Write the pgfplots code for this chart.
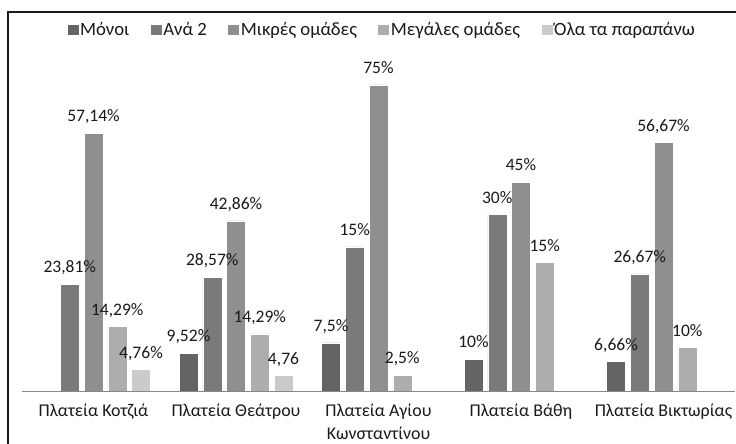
\documentclass[border=0pt]{standalone}
\usepackage{pgfplots}
\pgfplotsset{compat=1.18}
\usepackage{fontspec}
\setmainfont{Carlito}
\definecolor{cA}{HTML}{646464}
\definecolor{cB}{HTML}{7A7A7A}
\definecolor{cC}{HTML}{8F8F8F}
\definecolor{cD}{HTML}{ADADAD}
\definecolor{cE}{HTML}{CBCBCB}
\definecolor{txt}{HTML}{1A1A1A}
\begin{document}
\begin{tikzpicture}[x=1bp,y=1bp]
\useasboundingbox (0,0) rectangle (736,444);
\fill[white] (0,0) rectangle (736,444);
\draw[line width=1.2bp, color=black!90] (8,0) -- (8,432) -- (736,432);
\begin{axis}[
  at={(22.25bp,53bp)}, anchor=south west,
  scale only axis, width=712.5bp, height=331bp,
  xmin=-0.5, xmax=4.5, ymin=0, ymax=81.127,
  axis y line=none, axis x line*=bottom,
  x axis line style={color=black!47, line width=0.9bp, -},
  xtick={0,1,2,3,4},
  xticklabels={Πλατεία Κοτζιά, Πλατεία Θεάτρου, {Πλατεία Αγίου\\Κωνσταντίνου}, Πλατεία Βάθη, Πλατεία Βικτωρίας},
  major tick length=0pt,
  xticklabel style={font=\fontsize{18}{23}\selectfont, align=center, text=txt, yshift=-9.5bp},
  ybar=4.75bp, bar width=19bp,
  nodes near coords, point meta=explicit symbolic,
  every node near coord/.append style={anchor=base, yshift=11.3bp, inner sep=0pt, font=\fontsize{17.6}{20}\selectfont, text=txt},
  legend columns=5,
  legend style={at={(axis description cs:0.5049,1.0906)}, anchor=center, draw=none, fill=none,
    font=\fontsize{18.8}{20}\selectfont, text=txt, inner sep=0pt,
    /tikz/every odd column/.append style={column sep=0pt},
    /tikz/every even column/.append style={column sep=20bp},
    nodes={inner sep=1.5bp}},
  legend image code/.code={\draw[#1,draw=none] (0bp,-5bp) rectangle (11bp,5bp);},
]
\addplot[fill=cA, draw=white, line width=0.5bp] coordinates {(1,9.24) [9{,}52\%] (2,11.8) [7{,}5\%] (3,7.8) [10\%] (4,7.2) [6{,}66\%]};
\addlegendentry{Μόνοι}
\addplot[fill=cB, draw=white, line width=0.5bp] coordinates {(0,26.2) [23{,}81\%] (1,27.9) [28{,}57\%] (2,35.3) [15\%] (3,43.3) [30\%] (4,28.7) [26{,}67\%]};
\addlegendentry{Ανά 2}
\addplot[fill=cC, draw=white, line width=0.5bp] coordinates {(0,63.2) [57{,}14\%] (1,41.7) [42{,}86\%] (2,75) [75\%] (3,51.2) [45\%] (4,60.9) [56{,}67\%]};
\addlegendentry{Μικρές ομάδες}
\addplot[fill=cD, draw=white, line width=0.5bp] coordinates {(0,15.8) [14{,}29\%] (1,14.0) [14{,}29\%] (2,3.9) [2{,}5\%] (3,31.5) [15\%] (4,10.7) [10\%]};
\addlegendentry{Μεγάλες ομάδες}
\addplot[fill=cE, draw=white, line width=0.5bp] coordinates {(0,5.3) [4{,}76\%] (1,3.75) [4{,}76]};
\addlegendentry{Όλα τα παραπάνω}
\end{axis}
\end{tikzpicture}
\end{document}
